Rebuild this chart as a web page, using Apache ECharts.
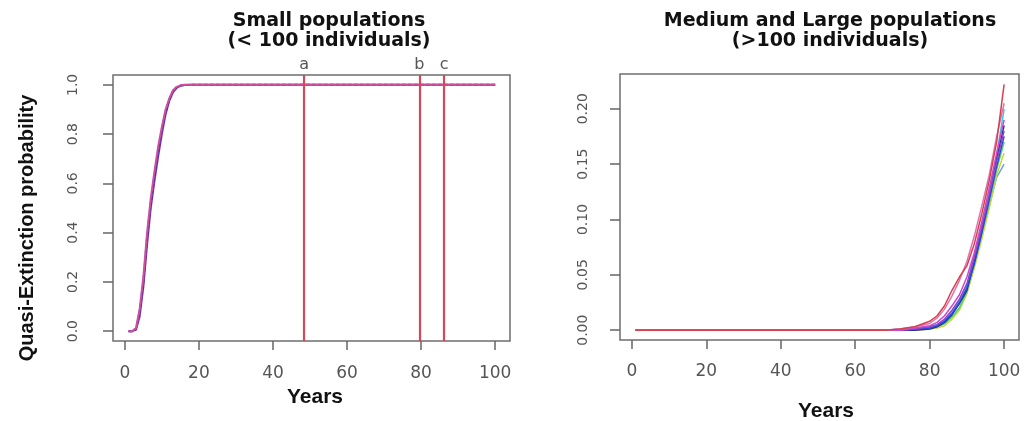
<!DOCTYPE html>
<html>
<head>
<meta charset="utf-8">
<script src="https://cdn.jsdelivr.net/npm/echarts@6/dist/echarts.min.js"></script>
<style>
html,body{margin:0;padding:0;background:#fff;}
#chart{width:1024px;height:421px;}
</style>
</head>
<body>
<div id="chart"></div>
<script>
// ---------- DATA ----------
// Left panel: small populations (< 100 individuals)
const smallYears = [1, 2, 3, 4, 5, 6, 7, 8, 9, 10, 11, 12, 13, 14, 15, 16, 18, 100];
const smallRunA = [0, 0, 0.010, 0.08, 0.20, 0.38, 0.52, 0.63, 0.73, 0.82, 0.89, 0.940, 0.975, 0.990, 0.997, 0.999, 1, 1];
const smallRunB = [0, 0, 0.005, 0.06, 0.18, 0.35, 0.50, 0.61, 0.71, 0.80, 0.88, 0.935, 0.970, 0.988, 0.996, 0.999, 1, 1];
const smallRunC = [0, 0, 0.012, 0.09, 0.22, 0.40, 0.54, 0.65, 0.75, 0.83, 0.90, 0.945, 0.978, 0.992, 0.998, 1.000, 1, 1];
const markNames = ['a', 'b', 'c'];
const markYears = [48.4, 79.5, 86.2];

// Right panel: medium and large populations (> 100 individuals)
const largeYears = [1, 68, 72, 76, 80, 82, 84, 86, 88, 90, 92, 94, 96, 98, 100];
const largeRun1  = [0, 0, 0.001, 0.003, 0.008, 0.013, 0.022, 0.036, 0.048, 0.058, 0.078, 0.105, 0.135, 0.170, 0.222];
const largeRun2  = [0, 0, 0.001, 0.003, 0.006, 0.011, 0.019, 0.031, 0.045, 0.062, 0.085, 0.112, 0.140, 0.175, 0.205];
const largeRun3  = [0, 0, 0, 0.002, 0.004, 0.007, 0.013, 0.022, 0.032, 0.048, 0.070, 0.098, 0.128, 0.160, 0.190];
const largeRun4  = [0, 0, 0, 0.001, 0.003, 0.005, 0.010, 0.018, 0.028, 0.042, 0.066, 0.093, 0.122, 0.152, 0.180];
const largeRun5  = [0, 0, 0, 0.001, 0.002, 0.004, 0.008, 0.015, 0.025, 0.038, 0.060, 0.088, 0.118, 0.148, 0.175];
const largeRun6  = [0, 0, 0, 0, 0.001, 0.003, 0.007, 0.014, 0.024, 0.036, 0.062, 0.090, 0.120, 0.155, 0.185];
const largeRun7  = [0, 0, 0.001, 0.002, 0.003, 0.005, 0.009, 0.017, 0.027, 0.040, 0.068, 0.096, 0.126, 0.158, 0.200];
const largeRun8  = [0, 0, 0, 0.001, 0.002, 0.003, 0.006, 0.012, 0.020, 0.035, 0.060, 0.087, 0.115, 0.145, 0.170];
const largeRun9  = [0, 0, 0, 0, 0.001, 0.002, 0.004, 0.010, 0.018, 0.033, 0.056, 0.082, 0.110, 0.140, 0.160];
const largeRun10 = [0, 0, 0, 0.001, 0.002, 0.003, 0.006, 0.012, 0.020, 0.034, 0.058, 0.085, 0.112, 0.138, 0.150];

// Tick values / labels
const xTickValues = [0, 20, 40, 60, 80, 100];
const leftYTickValues = [0, 0.2, 0.4, 0.6, 0.8, 1.0];
const rightYTickValues = [0, 0.05, 0.10, 0.15, 0.20];

// ---------- LAYOUT ----------
const L = {left: 113, top: 75, width: 397, height: 266, xmin: -3.2, xmax: 104, ymin: -0.04, ymax: 1.04};
const R = {left: 620, top: 74, width: 399, height: 266, xmin: -3.2, xmax: 104, ymin: -0.0089, ymax: 0.2314};

const frameColor = '#6e6e6e';
const tickColor = '#666';
const labelColor = '#555';

function mainGrid(P) {
  return {left: P.left, top: P.top, width: P.width, height: P.height,
    show: true, borderColor: frameColor, borderWidth: 1.5, backgroundColor: 'transparent'};
}
function pairs(xs, ys) { return xs.map((x, i) => [x, ys[i]]); }

function xAxisFor(gi, P, margin) {
  return {gridIndex: gi, type: 'value', min: P.xmin, max: P.xmax, position: 'bottom',
    axisLine: {show: false, onZero: false}, splitLine: {show: false},
    axisTick: {show: true, length: 9, customValues: xTickValues, lineStyle: {color: tickColor, width: 1.5}},
    axisLabel: {customValues: xTickValues, fontSize: 17, color: labelColor, fontFamily: 'DejaVu Sans', margin: margin,
      formatter: v => String(Math.round(v))}};
}
function yAxisFor(gi, P, ticks, digits, fs, margin) {
  return {gridIndex: gi, type: 'value', min: P.ymin, max: P.ymax, position: 'left',
    axisLine: {show: false, onZero: false}, splitLine: {show: false},
    axisTick: {show: true, length: 10, customValues: ticks, lineStyle: {color: tickColor, width: 1.5}},
    axisLabel: {customValues: ticks, rotate: 90, fontSize: fs, color: labelColor, fontFamily: 'DejaVu Sans', margin: margin,
      formatter: v => v.toFixed(digits)}};
}

const option = {
  animation: false,
  backgroundColor: '#fff',
  grid: [mainGrid(L), mainGrid(R)],
  xAxis: [xAxisFor(0, L, 24), xAxisFor(1, R, 23)],
  yAxis: [yAxisFor(0, L, leftYTickValues, 1, 14, 33), yAxisFor(1, R, rightYTickValues, 2, 14, 30)],
  series: [],
  graphic: [
    {type: 'text', x: 329, y: 11, style: {text: 'Small populations\n(< 100 individuals)', textAlign: 'center',
      font: 'bold 19px "DejaVu Sans"', fill: '#111', lineHeight: 20}},
    {type: 'text', x: 830, y: 11, style: {text: 'Medium and Large populations\n(>100 individuals)', textAlign: 'center',
      font: 'bold 19px "DejaVu Sans"', fill: '#111', lineHeight: 20}},
    {type: 'text', x: 27, y: 228, rotation: Math.PI / 2, style: {text: 'Quasi-Extinction probability', textAlign: 'center',
      textVerticalAlign: 'middle', font: 'bold 20px "Liberation Sans"', fill: '#111'}},
    {type: 'text', x: 315, y: 397, style: {text: 'Years', textAlign: 'center', textVerticalAlign: 'middle',
      font: 'bold 21px "Liberation Sans"', fill: '#111'}},
    {type: 'text', x: 826, y: 411, style: {text: 'Years', textAlign: 'center', textVerticalAlign: 'middle',
      font: 'bold 21px "Liberation Sans"', fill: '#111'}}
  ]
};

// Left panel series
const smallRuns = [
  {data: smallRunB, color: '#7a3ab0', type: 'solid'},
  {data: smallRunA, color: '#34349a', type: [4, 2]},
  {data: smallRunC, color: '#cf4f9f', type: 'solid'}
];
smallRuns.forEach((r, i) => {
  option.series.push({type: 'line', xAxisIndex: 0, yAxisIndex: 0, showSymbol: false, symbol: 'none',
    data: pairs(smallYears, r.data), lineStyle: {color: r.color, width: 2, type: r.type}, z: 2 + i});
});
option.series.push({type: 'line', xAxisIndex: 0, yAxisIndex: 0, data: [], symbol: 'none', z: 10,
  markLine: {silent: true, symbol: 'none', animation: false,
    lineStyle: {color: '#d4495a', width: 2.2, type: 'solid'},
    label: {show: true, position: 'end', distance: 2, formatter: p => p.name, color: '#555', fontSize: 16, fontFamily: 'DejaVu Sans'},
    data: markYears.map((x, i) => ({name: markNames[i], xAxis: x}))}});

// Right panel series
const largeRuns = [
  [largeRun10, '#70a0f0'], [largeRun9, '#c8d840'], [largeRun8, '#4fd85a'], [largeRun7, '#38c8e0'],
  [largeRun6, '#26308f'], [largeRun5, '#2a44e0'], [largeRun4, '#8a48c8'], [largeRun3, '#c848d0'],
  [largeRun2, '#e070b0'], [largeRun1, '#d8404e']
];
largeRuns.forEach((r, i) => {
  option.series.push({type: 'line', xAxisIndex: 1, yAxisIndex: 1, showSymbol: false, symbol: 'none',
    data: pairs(largeYears, r[0]), lineStyle: {color: r[1], width: 1.5}, z: 2 + i});
});

const chart = echarts.init(document.getElementById('chart'), null, {renderer: 'canvas'});
chart.setOption(option);
</script>
</body>
</html>
